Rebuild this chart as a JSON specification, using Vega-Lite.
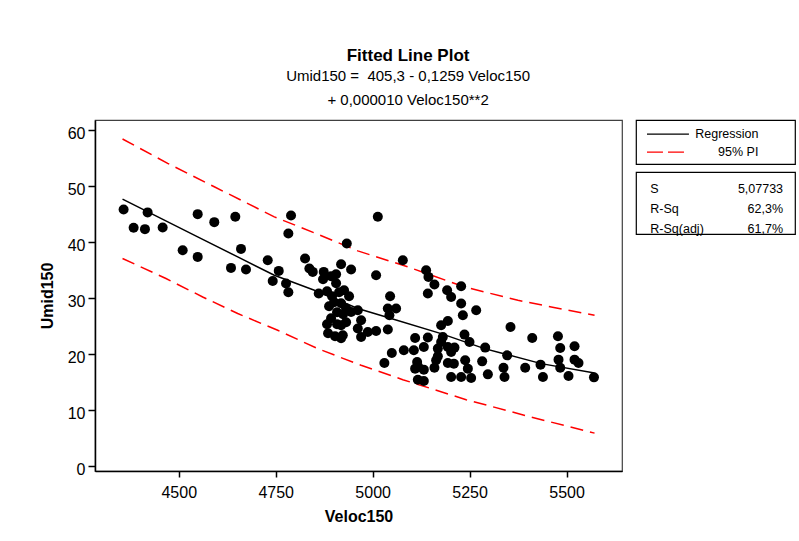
{
  "$schema": "https://vega.github.io/schema/vega-lite/v6.json",
  "padding": {"left": 38, "top": 47, "right": 0, "bottom": 0},
  "background": "white",
  "title": {
    "text": "Fitted Line Plot",
    "subtitle": ["Umid150 = \u00a0405,3 - 0,1259 Veloc150", "+ 0,000010 Veloc150**2"],
    "font": "Liberation Sans", "fontSize": 17, "fontWeight": "bold", "color": "black",
    "subtitleFont": "Liberation Sans", "subtitleFontSize": 15, "subtitleColor": "black",
    "subtitleLineHeight": 24, "subtitlePadding": 4, "anchor": "middle", "offset": 10, "dx": -9
  },
  "datasets": {
    "points": [
      {"Veloc150": 4357.8, "Umid150": 45.84}, {"Veloc150": 4419.7, "Umid150": 45.31},
      {"Veloc150": 4383.6, "Umid150": 42.56}, {"Veloc150": 4412.8, "Umid150": 42.32},
      {"Veloc150": 4458.5, "Umid150": 42.63}, {"Veloc150": 4548.8, "Umid150": 45.0},
      {"Veloc150": 4591.6, "Umid150": 43.57}, {"Veloc150": 4645.8, "Umid150": 44.52},
      {"Veloc150": 4789.5, "Umid150": 44.77}, {"Veloc150": 4782.6, "Umid150": 41.55},
      {"Veloc150": 4510.1, "Umid150": 38.57}, {"Veloc150": 4548.8, "Umid150": 37.37},
      {"Veloc150": 4660.5, "Umid150": 38.8}, {"Veloc150": 4634.7, "Umid150": 35.41},
      {"Veloc150": 4673.4, "Umid150": 35.12}, {"Veloc150": 4729.4, "Umid150": 36.78},
      {"Veloc150": 4757.8, "Umid150": 34.87}, {"Veloc150": 4742.3, "Umid150": 33.08},
      {"Veloc150": 4776.6, "Umid150": 32.62}, {"Veloc150": 4782.6, "Umid150": 31.06},
      {"Veloc150": 4825.7, "Umid150": 37.09}, {"Veloc150": 4836.8, "Umid150": 35.3},
      {"Veloc150": 4845.5, "Umid150": 34.69}, {"Veloc150": 4933.3, "Umid150": 39.77},
      {"Veloc150": 4918.6, "Umid150": 36.07}, {"Veloc150": 4944.4, "Umid150": 35.12},
      {"Veloc150": 4873.9, "Umid150": 34.69}, {"Veloc150": 4905.7, "Umid150": 34.28},
      {"Veloc150": 4861.0, "Umid150": 30.83}, {"Veloc150": 5013.3, "Umid150": 44.52},
      {"Veloc150": 5077.8, "Umid150": 36.78}, {"Veloc150": 5008.9, "Umid150": 34.1},
      {"Veloc150": 5137.9, "Umid150": 35.0}, {"Veloc150": 5143.9, "Umid150": 33.8},
      {"Veloc150": 5159.3, "Umid150": 32.44}, {"Veloc150": 5142.3, "Umid150": 30.83},
      {"Veloc150": 5192.1, "Umid150": 31.42}, {"Veloc150": 5228.2, "Umid150": 32.14},
      {"Veloc150": 5202.4, "Umid150": 30.22}, {"Veloc150": 5045.0, "Umid150": 30.35},
      {"Veloc150": 5228.2, "Umid150": 29.04}, {"Veloc150": 5267.0, "Umid150": 27.85},
      {"Veloc150": 5232.6, "Umid150": 26.95}, {"Veloc150": 5039.1, "Umid150": 28.15},
      {"Veloc150": 5060.5, "Umid150": 28.15}, {"Veloc150": 5043.2, "Umid150": 26.95},
      {"Veloc150": 4944.4, "Umid150": 27.54}, {"Veloc150": 4961.7, "Umid150": 27.85},
      {"Veloc150": 4970.2, "Umid150": 26.06}, {"Veloc150": 4918.6, "Umid150": 25.17},
      {"Veloc150": 4961.7, "Umid150": 24.58}, {"Veloc150": 4970.2, "Umid150": 23.07},
      {"Veloc150": 4987.5, "Umid150": 23.97}, {"Veloc150": 5008.9, "Umid150": 24.15},
      {"Veloc150": 5039.1, "Umid150": 24.4}, {"Veloc150": 4923.0, "Umid150": 23.38},
      {"Veloc150": 5176.6, "Umid150": 25.17}, {"Veloc150": 5193.9, "Umid150": 25.93},
      {"Veloc150": 5355.5, "Umid150": 24.86}, {"Veloc150": 5236.8, "Umid150": 23.5},
      {"Veloc150": 5249.7, "Umid150": 22.18}, {"Veloc150": 5290.2, "Umid150": 21.18},
      {"Veloc150": 5346.9, "Umid150": 19.8}, {"Veloc150": 5411.5, "Umid150": 22.9},
      {"Veloc150": 5477.8, "Umid150": 23.2}, {"Veloc150": 5483.7, "Umid150": 21.11},
      {"Veloc150": 5520.6, "Umid150": 21.41}, {"Veloc150": 5479.3, "Umid150": 19.03},
      {"Veloc150": 5483.7, "Umid150": 17.6}, {"Veloc150": 5520.6, "Umid150": 19.03},
      {"Veloc150": 5530.9, "Umid150": 18.43}, {"Veloc150": 5432.9, "Umid150": 18.14},
      {"Veloc150": 5393.4, "Umid150": 17.6}, {"Veloc150": 5439.1, "Umid150": 15.92},
      {"Veloc150": 5505.1, "Umid150": 16.1}, {"Veloc150": 5570.7, "Umid150": 15.87},
      {"Veloc150": 5337.4, "Umid150": 17.6}, {"Veloc150": 5340.0, "Umid150": 15.92},
      {"Veloc150": 5297.1, "Umid150": 16.41}, {"Veloc150": 5282.4, "Umid150": 18.73},
      {"Veloc150": 5238.6, "Umid150": 18.91}, {"Veloc150": 5245.5, "Umid150": 17.43},
      {"Veloc150": 5228.2, "Umid150": 15.92}, {"Veloc150": 5202.4, "Umid150": 15.92},
      {"Veloc150": 5254.0, "Umid150": 15.75}, {"Veloc150": 5209.4, "Umid150": 18.32},
      {"Veloc150": 5193.9, "Umid150": 18.43}, {"Veloc150": 5168.1, "Umid150": 21.0},
      {"Veloc150": 5176.6, "Umid150": 22.18}, {"Veloc150": 5181.0, "Umid150": 23.07},
      {"Veloc150": 5193.9, "Umid150": 21.29}, {"Veloc150": 5211.0, "Umid150": 21.18},
      {"Veloc150": 5202.4, "Umid150": 20.39}, {"Veloc150": 5163.7, "Umid150": 18.91},
      {"Veloc150": 5159.3, "Umid150": 17.6}, {"Veloc150": 5168.1, "Umid150": 19.62},
      {"Veloc150": 5142.3, "Umid150": 22.97}, {"Veloc150": 5109.5, "Umid150": 22.9},
      {"Veloc150": 5132.0, "Umid150": 21.29}, {"Veloc150": 5106.2, "Umid150": 20.7},
      {"Veloc150": 5080.4, "Umid150": 20.7}, {"Veloc150": 5049.4, "Umid150": 20.21},
      {"Veloc150": 5030.3, "Umid150": 18.43}, {"Veloc150": 5114.7, "Umid150": 18.61},
      {"Veloc150": 5118.0, "Umid150": 17.71}, {"Veloc150": 5109.5, "Umid150": 17.43},
      {"Veloc150": 5132.0, "Umid150": 17.25}, {"Veloc150": 5116.5, "Umid150": 15.46},
      {"Veloc150": 5132.0, "Umid150": 15.21},
      {"Veloc150": 4872.1, "Umid150": 33.39}, {"Veloc150": 4892.8, "Umid150": 33.92},
      {"Veloc150": 4905.7, "Umid150": 32.67}, {"Veloc150": 4882.4, "Umid150": 31.24},
      {"Veloc150": 4895.3, "Umid150": 30.35}, {"Veloc150": 4913.4, "Umid150": 31.06},
      {"Veloc150": 4926.3, "Umid150": 31.42}, {"Veloc150": 4939.2, "Umid150": 30.35},
      {"Veloc150": 4900.5, "Umid150": 29.28}, {"Veloc150": 4918.6, "Umid150": 29.1},
      {"Veloc150": 4931.5, "Umid150": 28.2}, {"Veloc150": 4887.6, "Umid150": 28.56},
      {"Veloc150": 4908.2, "Umid150": 27.49}, {"Veloc150": 4923.7, "Umid150": 27.13},
      {"Veloc150": 4892.8, "Umid150": 26.42}, {"Veloc150": 4882.4, "Umid150": 25.34},
      {"Veloc150": 4908.2, "Umid150": 25.34}, {"Veloc150": 4931.5, "Umid150": 25.7},
      {"Veloc150": 4885.0, "Umid150": 23.74}, {"Veloc150": 4903.1, "Umid150": 23.2},
      {"Veloc150": 4918.6, "Umid150": 22.84}
    ],
    "fit": [
      {"Veloc150": 4355, "Umid150": 47.69}, {"Veloc150": 4548.8, "Umid150": 40.95},
      {"Veloc150": 4652, "Umid150": 37.37}, {"Veloc150": 4746.4, "Umid150": 34.1},
      {"Veloc150": 4849.7, "Umid150": 31.42}, {"Veloc150": 4961.7, "Umid150": 28.15},
      {"Veloc150": 5047.6, "Umid150": 26.36}, {"Veloc150": 5176.6, "Umid150": 23.68},
      {"Veloc150": 5288.4, "Umid150": 21.0}, {"Veloc150": 5434.7, "Umid150": 18.32},
      {"Veloc150": 5572.2, "Umid150": 16.64}
    ],
    "pi": [
      {"bound": "upper", "Veloc150": 4355, "Umid150": 58.41},
      {"bound": "upper", "Veloc150": 4471.4, "Umid150": 54.07},
      {"bound": "upper", "Veloc150": 4591.6, "Umid150": 49.88},
      {"bound": "upper", "Veloc150": 4746.4, "Umid150": 44.52},
      {"bound": "upper", "Veloc150": 4849.7, "Umid150": 41.66},
      {"bound": "upper", "Veloc150": 4961.7, "Umid150": 38.44},
      {"bound": "upper", "Veloc150": 5090.7, "Umid150": 35.59},
      {"bound": "upper", "Veloc150": 5236.8, "Umid150": 32.01},
      {"bound": "upper", "Veloc150": 5374.6, "Umid150": 29.63},
      {"bound": "upper", "Veloc150": 5460.5, "Umid150": 28.44},
      {"bound": "upper", "Veloc150": 5572.2, "Umid150": 26.95},
      {"bound": "lower", "Veloc150": 4355, "Umid150": 37.09},
      {"bound": "lower", "Veloc150": 4467, "Umid150": 33.51},
      {"bound": "lower", "Veloc150": 4561.7, "Umid150": 30.22},
      {"bound": "lower", "Veloc150": 4652, "Umid150": 27.26},
      {"bound": "lower", "Veloc150": 4755.2, "Umid150": 24.27},
      {"bound": "lower", "Veloc150": 4858.4, "Umid150": 21.0},
      {"bound": "lower", "Veloc150": 4970.2, "Umid150": 18.02},
      {"bound": "lower", "Veloc150": 5077.8, "Umid150": 15.46},
      {"bound": "lower", "Veloc150": 5241.1, "Umid150": 11.89},
      {"bound": "lower", "Veloc150": 5408.9, "Umid150": 8.78},
      {"bound": "lower", "Veloc150": 5572.2, "Umid150": 5.92}
    ],
    "legend": [{"series": "Regression"}, {"series": "95% PI"}],
    "stats": [
      {"stat": "S", "value": "5,07733"},
      {"stat": "R-Sq", "value": "62,3%"},
      {"stat": "R-Sq(adj)", "value": "61,7%"}
    ]
  },
  "hconcat": [
    {
      "width": 527, "height": 351,
      "view": {"stroke": "#404040", "strokeWidth": 1.2},
      "layer": [
        {
          "data": {"name": "pi"},
          "mark": {"type": "line", "color": "#ff0000", "strokeWidth": 1.5, "strokeDash": [13, 7]},
          "encoding": {
            "x": {"field": "Veloc150", "type": "quantitative", "scale": {"domain": [4284, 5643], "nice": false, "zero": false},
                  "axis": {"values": [4500, 4750, 5000, 5250, 5500], "format": "d", "title": "Veloc150", "labelPadding": 7, "titlePadding": 8}},
            "y": {"field": "Umid150", "type": "quantitative", "scale": {"domain": [-0.84, 61.8], "nice": false, "zero": false},
                  "axis": {"values": [0, 10, 20, 30, 40, 50, 60], "title": "Umid150", "labelPadding": 3, "tickSize": 7, "labelOffset": 3, "titlePadding": 12}},
            "detail": {"field": "bound"}
          }
        },
        {
          "data": {"name": "fit"},
          "mark": {"type": "line", "color": "black", "strokeWidth": 1.5},
          "encoding": {
            "x": {"field": "Veloc150", "type": "quantitative"},
            "y": {"field": "Umid150", "type": "quantitative"}
          }
        },
        {
          "data": {"name": "points"},
          "mark": {"type": "circle", "color": "black", "opacity": 1, "size": 100},
          "encoding": {
            "x": {"field": "Veloc150", "type": "quantitative"},
            "y": {"field": "Umid150", "type": "quantitative"}
          }
        }
      ]
    },
    {
      "vconcat": [
        {
          "width": 159, "height": 44,
          "view": {"stroke": "black", "strokeWidth": 1.2},
          "data": {"name": "legend"},
          "layer": [
            {
              "mark": {"type": "rule", "strokeWidth": 1.3},
              "encoding": {
                "x": {"datum": 0.069, "type": "quantitative", "scale": {"domain": [0, 1], "nice": false}, "axis": null},
                "x2": {"datum": 0.333},
                "y": {"field": "series", "type": "nominal", "scale": {"type": "point", "domain": ["Regression", "95% PI"], "padding": 0.722, "align": 0.54}, "axis": null},
                "color": {"field": "series", "type": "nominal", "scale": {"domain": ["Regression", "95% PI"], "range": ["black", "#ff0000"]}, "legend": null},
                "strokeDash": {"field": "series", "type": "nominal", "scale": {"domain": ["Regression", "95% PI"], "range": [[1, 0], [16, 5]]}, "legend": null}
              }
            },
            {
              "mark": {"type": "text", "align": "right", "baseline": "middle", "font": "Liberation Sans", "fontSize": 12.5, "color": "black"},
              "encoding": {
                "x": {"datum": 0.77, "type": "quantitative"},
                "y": {"field": "series", "type": "nominal"},
                "text": {"field": "series"}
              }
            }
          ]
        },
        {
          "width": 159, "height": 62,
          "view": {"stroke": "black", "strokeWidth": 1.2},
          "data": {"name": "stats"},
          "layer": [
            {
              "mark": {"type": "text", "align": "left", "baseline": "middle", "font": "Liberation Sans", "fontSize": 12.5, "color": "black"},
              "encoding": {
                "x": {"datum": 0.09, "type": "quantitative", "scale": {"domain": [0, 1], "nice": false}, "axis": null},
                "y": {"field": "stat", "type": "nominal", "sort": null, "scale": {"type": "point", "padding": 0.574, "align": 0.766}, "axis": null},
                "text": {"field": "stat"}
              }
            },
            {
              "mark": {"type": "text", "align": "right", "baseline": "middle", "font": "Liberation Sans", "fontSize": 12.5, "color": "black"},
              "encoding": {
                "x": {"datum": 0.925, "type": "quantitative"},
                "y": {"field": "stat", "type": "nominal", "sort": null},
                "text": {"field": "value"}
              }
            }
          ]
        }
      ],
      "spacing": 6
    }
  ],
  "spacing": 12,
  "config": {
    "font": "Liberation Sans",
    "axis": {
      "labelFont": "Liberation Sans", "labelFontSize": 16, "labelColor": "black",
      "titleFont": "Liberation Sans", "titleFontSize": 16, "titleFontWeight": "bold", "titleColor": "black",
      "domainColor": "black", "domainWidth": 1.5, "tickColor": "black", "tickWidth": 1.5, "tickSize": 6, "grid": false
    }
  }
}
